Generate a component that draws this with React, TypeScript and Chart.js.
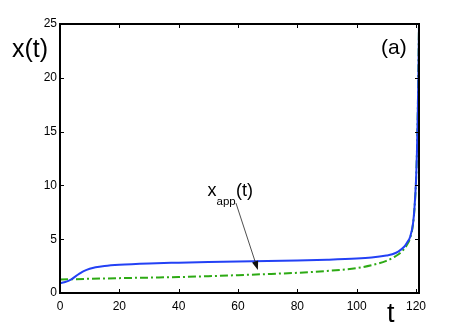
import React, { useEffect, useRef } from "react";
import { Chart, registerables } from "chart.js";

Chart.register(...registerables);

// ---- data ----
const blueT = [0, 1, 2, 3, 4, 5, 6, 7, 8, 10, 12, 15, 20, 30, 40, 50, 60, 70, 80, 90, 100, 105, 110, 112, 114, 116, 117, 118, 119, 119.5, 120, 120.3, 120.6, 120.8, 121];
const blueX = [0.92, 0.97, 1.05, 1.15, 1.3, 1.5, 1.7, 1.88, 2.03, 2.25, 2.4, 2.52, 2.63, 2.75, 2.82, 2.88, 2.93, 2.97, 3.02, 3.09, 3.2, 3.3, 3.48, 3.6, 3.85, 4.3, 4.7, 5.2, 6.5, 8, 10.5, 13, 17, 20.5, 25];

const greenT = [0, 10, 20, 30, 40, 50, 60, 70, 80, 90, 100, 105, 110, 113, 115, 117, 118, 119, 119.5, 120, 120.3, 120.6, 120.8, 121];
const greenX = [1.25, 1.32, 1.38, 1.43, 1.48, 1.56, 1.66, 1.76, 1.88, 2.05, 2.32, 2.58, 2.98, 3.4, 3.8, 4.5, 5.1, 6.4, 7.9, 10.4, 13, 17, 21, 25];

const xTicks = [0, 20, 40, 60, 80, 100, 120];
const yTicks = [0, 5, 10, 15, 20, 25];
const xMin = 0;
const xMax = 121;
const yMin = 0;
const yMax = 25;

const arrowStart = { t: 59.3, x: 8.36 };
const arrowEnd = { t: 66.7, x: 2.14 };

const FONT = "'Liberation Sans', Arial, Helvetica, sans-serif";

const overlay = {
  id: "overlay",
  afterDraw(chart: any) {
    const ctx = chart.ctx as CanvasRenderingContext2D;
    const { left, right, top, bottom } = chart.chartArea;
    const xs = chart.scales.x;
    const ys = chart.scales.y;
    ctx.save();
    // frame
    ctx.strokeStyle = "#000";
    ctx.lineWidth = 2;
    ctx.strokeRect(left, top, right - left, bottom - top);
    // inward ticks
    ctx.lineWidth = 1;
    const tl = 4;
    ctx.beginPath();
    for (const v of xTicks) {
      const px = Math.round(xs.getPixelForValue(v)) + 0.5;
      ctx.moveTo(px, bottom);
      ctx.lineTo(px, bottom - tl);
      ctx.moveTo(px, top);
      ctx.lineTo(px, top + tl);
    }
    for (const v of yTicks) {
      const py = Math.round(ys.getPixelForValue(v)) + 0.5;
      ctx.moveTo(left, py);
      ctx.lineTo(left + tl, py);
      ctx.moveTo(right, py);
      ctx.lineTo(right - tl, py);
    }
    ctx.stroke();

    // texts
    ctx.fillStyle = "#000";
    ctx.textBaseline = "alphabetic";
    ctx.textAlign = "left";
    ctx.font = `25px ${FONT}`;
    ctx.fillText("x(t)", 12, 56.5);
    ctx.font = `21px ${FONT}`;
    ctx.fillText("(a)", 381, 54);
    ctx.font = `27px ${FONT}`;
    ctx.fillText("t", 387, 321.5);

    // annotation
    ctx.font = `18px ${FONT}`;
    ctx.fillText("x", 207.5, 196);
    ctx.font = `11.5px ${FONT}`;
    ctx.fillText("app", 216.5, 205);
    ctx.font = `18px ${FONT}`;
    ctx.fillText("(t)", 236, 196);

    const x1 = xs.getPixelForValue(arrowStart.t);
    const y1 = ys.getPixelForValue(arrowStart.x);
    const x2 = xs.getPixelForValue(arrowEnd.t);
    const y2 = ys.getPixelForValue(arrowEnd.x);
    const ang = Math.atan2(y2 - y1, x2 - x1);
    const hl = 9;
    const hw = 3.2;
    const bx = x2 - hl * Math.cos(ang);
    const by = y2 - hl * Math.sin(ang);
    ctx.strokeStyle = "#222";
    ctx.lineWidth = 0.8;
    ctx.beginPath();
    ctx.moveTo(x1, y1);
    ctx.lineTo(bx, by);
    ctx.stroke();
    ctx.fillStyle = "#111";
    ctx.beginPath();
    ctx.moveTo(x2, y2);
    ctx.lineTo(bx + hw * Math.sin(ang), by - hw * Math.cos(ang));
    ctx.lineTo(bx - hw * Math.sin(ang), by + hw * Math.cos(ang));
    ctx.closePath();
    ctx.fill();
    ctx.restore();
  },
};

export default function App() {
  const ref = useRef<HTMLCanvasElement | null>(null);
  useEffect(() => {
    if (!ref.current) return;
    const chart = new Chart(ref.current, {
      type: "line",
      data: {
        datasets: [
          {
            label: "x(t)",
            data: blueT.map((t, i) => ({ x: t, y: blueX[i] })),
            borderColor: "rgb(35,65,245)",
            borderWidth: 2,
            pointRadius: 0,
            cubicInterpolationMode: "monotone",
          },
          {
            label: "x_app(t)",
            data: greenT.map((t, i) => ({ x: t, y: greenX[i] })),
            borderColor: "rgb(45,170,20)",
            borderWidth: 2,
            borderDash: [8, 3, 2, 3],
            pointRadius: 0,
            cubicInterpolationMode: "monotone",
          },
        ],
      },
      options: {
        animation: false,
        responsive: false,
        layout: { padding: { top: 24, right: 44, left: 0, bottom: 0 } },
        plugins: { legend: { display: false }, tooltip: { enabled: false } },
        scales: {
          x: {
            type: "linear",
            min: xMin,
            max: xMax,
            grid: { display: false, drawTicks: false },
            border: { display: false },
            afterBuildTicks: (s: any) => {
              s.ticks = xTicks.map((v) => ({ value: v }));
            },
            afterFit: (s: any) => {
              s.height = 38;
            },
            ticks: {
              color: "#000",
              padding: 6,
              maxRotation: 0,
              font: { family: FONT, size: 12 },
            },
          },
          y: {
            type: "linear",
            min: yMin,
            max: yMax,
            grid: { display: false, drawTicks: false },
            border: { display: false },
            afterBuildTicks: (s: any) => {
              s.ticks = yTicks.map((v) => ({ value: v }));
            },
            afterFit: (s: any) => {
              s.width = 60;
            },
            ticks: {
              color: "#000",
              padding: 3,
              font: { family: FONT, size: 12 },
            },
          },
        },
      },
      plugins: [overlay],
    });
    return () => chart.destroy();
  }, []);
  return (
    <div style={{ position: "absolute", left: 0, top: 0, width: 463, height: 331, background: "#fff" }}>
      <canvas ref={ref} width={463} height={331} style={{ display: "block" }} />
    </div>
  );
}
